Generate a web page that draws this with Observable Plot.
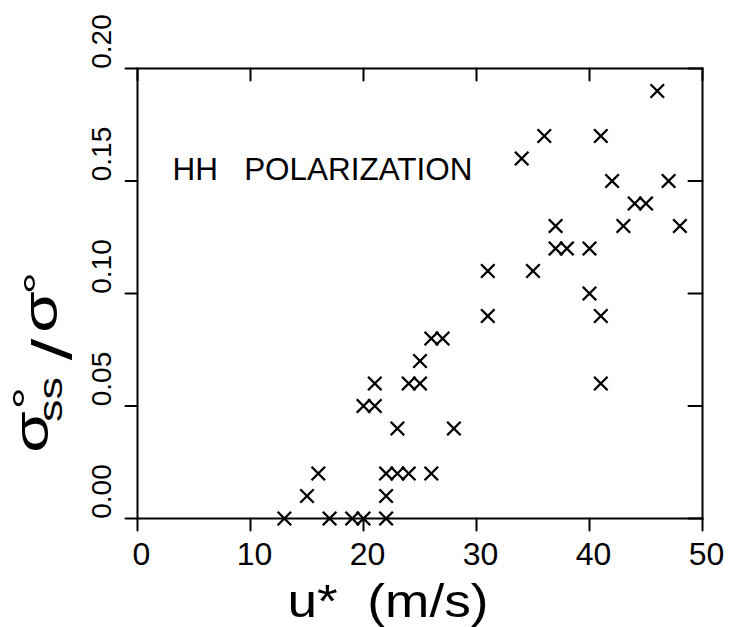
<!DOCTYPE html>
<html>
<head>
<meta charset="utf-8">
<script src="https://cdn.jsdelivr.net/npm/d3@7"></script>
<script src="https://cdn.jsdelivr.net/npm/@observablehq/plot@0.6"></script>
<style>
  html, body { margin: 0; padding: 0; background: #fff; }
  #chart svg { display: block; }
</style>
</head>
<body>
<div id="chart"></div>
<script>
// ---- data ----
const uStar = [13, 17, 19, 20, 22,
               15, 22,
               16, 22, 23, 24, 26,
               23, 28,
               20, 21,
               21, 24, 25, 41,
               25,
               26, 27,
               31, 41,
               40,
               31, 35,
               37, 38, 40,
               37, 43, 48,
               44, 45,
               42, 47,
               34,
               36, 41,
               46];
const sigmaRatio = [0, 0, 0, 0, 0,
                    0.01, 0.01,
                    0.02, 0.02, 0.02, 0.02, 0.02,
                    0.04, 0.04,
                    0.05, 0.05,
                    0.06, 0.06, 0.06, 0.06,
                    0.07,
                    0.08, 0.08,
                    0.09, 0.09,
                    0.10,
                    0.11, 0.11,
                    0.12, 0.12, 0.12,
                    0.13, 0.13, 0.13,
                    0.14, 0.14,
                    0.15, 0.15,
                    0.16,
                    0.17, 0.17,
                    0.19];
const xTicks = [0, 10, 20, 30, 40, 50];
const xTickLabels = ["0", "10", "20", "30", "40", "50"];
const yTicks = [0, 0.05, 0.10, 0.15, 0.20];
const yTickLabels = ["0.00", "0.05", "0.10", "0.15", "0.20"];
const annotation = "HH\u00a0\u00a0\u00a0POLARIZATION";
const xLabel = "u*\u00a0\u00a0(m/s)";

const points = uStar.map((u, i) => ({u, r: sigmaRatio[i]}));

const W = 731, H = 627;
const mL = 137, mR = 29, mT = 68, mB = 109;
const font = "'Liberation Sans', Arial, Helvetica, sans-serif";

// a plain line segment used for tick marks
const tickLine = {draw(context, l) { context.moveTo(0, 0); context.lineTo(0, -l); }};
const tickStyle = {shape: tickLine, anchor: "start", stroke: "#000", strokeWidth: 2};

const chart = Plot.plot({
  width: W,
  height: H,
  marginLeft: mL,
  marginRight: mR,
  marginTop: mT,
  marginBottom: mB,
  style: {fontFamily: font, color: "#000", background: "#fff", overflow: "visible"},
  x: {domain: [0, 50]},
  y: {domain: [0, 0.2]},
  marks: [
    Plot.frame({stroke: "#000", strokeWidth: 2}),
    // tick labels
    Plot.axisX({
      ticks: xTicks, tickSize: 0, tickPadding: 24,
      tickFormat: d => xTickLabels[xTicks.indexOf(d)],
      fontSize: 32, dx: 4, label: null
    }),
    Plot.axisY({
      ticks: yTicks, tickSize: 0, tickPadding: 27,
      tickRotate: -90, textAnchor: "middle", lineAnchor: "bottom",
      tickFormat: d => yTickLabels[yTicks.indexOf(d)],
      fontSize: 28, dy: -27, label: null
    }),
    // outward ticks on bottom and left, inward ticks on top and right
    Plot.vector(xTicks, {x: d => d, frameAnchor: "bottom", rotate: 180, length: 12, ...tickStyle}),
    Plot.vector(yTicks, {y: d => d, frameAnchor: "left", rotate: -90, length: 12, ...tickStyle}),
    Plot.vector(xTicks, {x: d => d, frameAnchor: "top", rotate: 180, length: 12, ...tickStyle}),
    Plot.vector(yTicks, {y: d => d, frameAnchor: "right", rotate: -90, length: 14, ...tickStyle}),
    Plot.dot(points, {x: "u", y: "r", symbol: "times", r: 6.2, stroke: "#000", strokeWidth: 2.4}),
    Plot.text([annotation], {
      frameAnchor: "top-left", textAnchor: "start", lineAnchor: "bottom",
      dx: 35, dy: 111, fontSize: 31, fill: "#000"
    }),
    Plot.text([xLabel], {
      frameAnchor: "bottom-left", textAnchor: "start", lineAnchor: "bottom",
      dx: 150, dy: 98, fontSize: 46, fill: "#000"
    })
  ]
});

document.getElementById("chart").appendChild(chart);

const svg = d3.select(chart);
// stretch the x label and annotation to the reference widths
svg.selectAll("text")
  .filter(function () { return this.textContent === xLabel; })
  .attr("textLength", 201)
  .attr("lengthAdjust", "spacingAndGlyphs");
svg.selectAll("text")
  .filter(function () { return this.textContent === annotation; })
  .attr("textLength", 300)
  .attr("lengthAdjust", "spacingAndGlyphs");

// y-axis label: σ°ss / σ°, rotated
const lab = svg.append("text")
  .attr("transform", "translate(48,432) rotate(-90) scale(1.25,0.9)")
  .attr("font-family", font)
  .attr("fill", "#000");
lab.append("tspan").attr("x", 0).attr("y", 0).attr("font-size", 54).text("σ");
lab.append("tspan").attr("x", 27).attr("y", -8).attr("font-size", 46).text("°");
lab.append("tspan").attr("x", 26).attr("y", 15.6).attr("font-size", 36).text("ss");
lab.append("tspan").attr("x", 66).attr("y", 25).attr("font-size", 62).text("/");
lab.append("tspan").attr("x", 96).attr("y", 10).attr("font-size", 54).text("σ");
lab.append("tspan").attr("x", 119).attr("y", 4).attr("font-size", 46).text("°");
</script>
</body>
</html>
